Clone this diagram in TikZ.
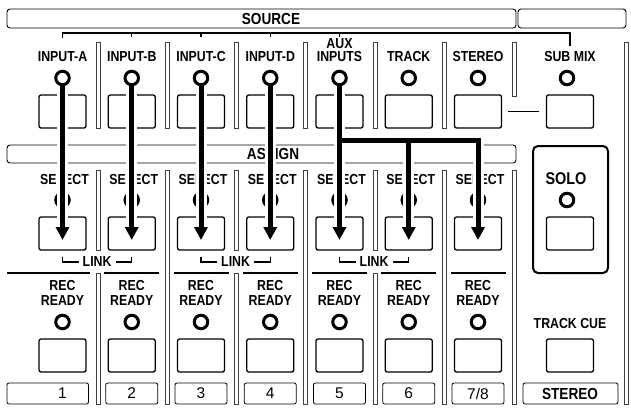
\documentclass[tikz,border=0pt]{standalone}
\usepackage{fontspec}
\setmainfont{Liberation Sans}
\newfontfamily\panelfont[FakeStretch=0.85]{Liberation Sans}
\usepackage{tikz}
\usetikzlibrary{arrows.meta}
\tikzstyle{panel} = [draw, line width=0.9pt, rounded corners=3pt]
\tikzstyle{key} = [draw, line width=1.3pt, rounded corners=2pt, minimum width=47pt, minimum height=33pt, inner sep=0pt]
\tikzstyle{led} = [draw, circle, line width=3pt, minimum size=13.5pt, inner sep=0pt]
\tikzstyle{lbl} = [font=\panelfont\fontsize{14.5}{15}\selectfont\bfseries, inner sep=0pt, align=center]
\tikzstyle{head} = [font=\panelfont\fontsize{16}{17}\selectfont\bfseries, inner sep=0pt]
\tikzstyle{num} = [font=\fontsize{15.5}{16}\selectfont, inner sep=0pt]
\tikzstyle{divider} = [draw=black!75, line width=0.8pt]
\tikzstyle{numbox} = [draw, line width=0.8pt, rounded corners=2pt]
\tikzstyle{brace} = [line width=1.2pt]
\tikzstyle{halo} = [white, line width=11pt]
\tikzstyle{feed} = [line width=5pt, -{Triangle[width=13pt,length=13pt]}]

\begin{document}
\begin{tikzpicture}[x=1pt, y=-1pt]
    \useasboundingbox (0,0) rectangle (631,410);
    % source header
    \draw[panel] (7,9) rectangle (516,28);
    \draw[panel] (518,9) rectangle (626,28);
    \node[head] (source) at (271,18.5) {SOURCE};
    \draw[brace] (62.5,38) -- (62.5,33) -- (570,33) -- (570,46);
    \foreach \x in {131.75,201,270.25,339.5}
        \draw[brace] (\x,33) -- (\x,37);
    % source keys
    \foreach \name/\x/\txt in {inA/62.5/INPUT-A, inB/131.75/INPUT-B, inC/201/INPUT-C, inD/270.25/INPUT-D, trk/408.75/TRACK, str/478/STEREO} {
        \node[lbl] (\name-l) at (\x,57) {\txt};
        \node[led] (\name) at (\x,78) {};
        \node[key] (\name-k) at (\x,111.5) {};
    }
    \node[lbl] (aux-l) at (339.5,50.5) {AUX\\[-2pt]INPUTS};
    \node[led] (aux) at (339.5,78) {};
    \node[key] (aux-k) at (339.5,111.5) {};
    \node[lbl] (sub-l) at (570,57) {SUB MIX};
    \node[led] (sub) at (567,78) {};
    \node[key] (sub-k) at (570,111.5) {};
    \draw[brace] ([xshift=6pt]str-k.east) -- ([xshift=-7pt]sub-k.west);
    % assign header
    \draw[panel] (7,145) rectangle (516,163);
    \node[head] (assign) at (273,154) {ASSIGN};
    % select keys
    \foreach \name/\x in {selA/62.5, selB/131.75, selC/201, selD/270.25, selE/339.5, selF/408.75, selG/478} {
        \node[lbl] (\name-l) at (\x+2,180) {SELECT};
        \node[led] (\name-led) at (\x,200) {};
        \node[key] (\name) at (\x,233.5) {};
    }
    \foreach \a/\b/\x in {selA/selB/97.1, selC/selD/235.6, selE/selF/374.1} {
        \node[lbl] (\a-link) at (\x,262) {LINK};
        \draw[brace] ([yshift=-6pt]\a.south) |- ([xshift=-4pt]\a-link.west);
        \draw[brace] ([yshift=-6pt]\b.south) |- ([xshift=4pt]\a-link.east);
    }
    % solo
    \draw[line width=2pt, rounded corners=5pt] (533,146) rectangle (608,273);
    \node[head, font=\panelfont\fontsize{17}{18}\selectfont\bfseries] (solo-l) at (566,179) {SOLO};
    \node[led] (solo) at (567,200) {};
    \node[key] (solo-k) at (570,233.5) {};
    % dividers
    \foreach \x in {98,167,236,305.5,375,444.5}
        \draw[divider] (\x-2,42) rectangle (\x+2,128);
    \draw[divider] (512,42) rectangle (516,96);
    \draw[divider] (624,42) rectangle (628,404);
    \foreach \x in {98,236,375} {
        \draw[divider] (\x-2,170) rectangle (\x+2,250);
        \draw[divider] (\x-2,273) rectangle (\x+2,404);
    }
    \foreach \x in {167,305.5,444.5,514}
        \draw[divider] (\x-2,170) rectangle (\x+2,404);
    % rec ready keys
    \foreach \name/\x/\lx/\bx/\txt in {recA/62.5/7/7/1, recB/131.75/104.25/105.75/2, recC/201/173.5/175/3, recD/270.25/242.75/244.25/4, recE/339.5/312/313.5/5, recF/408.75/381.25/382.75/6, recG/478/450.5/452/{7/8}} {
        \draw[line width=2pt] (\lx,273) -- (\x+27.5,273);
        \node[lbl] (\name-l) at (\x,293.4) {REC\\[0pt]READY};
        \node[led] (\name-led) at (\x,322) {};
        \node[key] (\name) at (\x,355.5) {};
        \draw[numbox] (\bx,383) rectangle (\x+26,404);
        \node[num] (\name-n) at (\x,393.5) {\txt};
    }
    % track cue
    \node[lbl] (cue-l) at (570,324) {TRACK CUE};
    \node[key] (cue) at (570,355.5) {};
    \draw[numbox] (523,383) rectangle (618,404);
    \node[head] (stereo) at (570,393.5) {STEREO};
    % signal flow
    \coordinate (fork) at (339.5,140.5);
    \foreach \src/\dst in {inA/selA, inB/selB, inC/selC, inD/selD, aux/selE}
        \draw[halo] (\src.south) -- ([yshift=-6.5pt]\dst.center);
    \draw[halo] (fork) -| ([yshift=-6.5pt]selG.center);
    \draw[halo] (fork -| selF) -- ([yshift=-6.5pt]selF.center);
    \foreach \src/\dst in {inA/selA, inB/selB, inC/selC, inD/selD, aux/selE}
        \draw[feed] (\src.south) -- ([yshift=-6.5pt]\dst.center);
    \draw[feed] (fork) -| ([yshift=-6.5pt]selG.center);
    \draw[feed] (fork -| selF) -- ([yshift=-6.5pt]selF.center);
\end{tikzpicture}
\end{document}
